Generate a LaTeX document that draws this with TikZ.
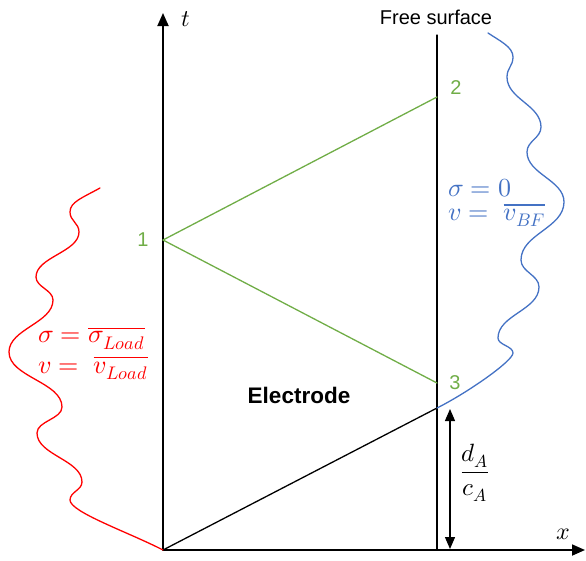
\documentclass[tikz,border=0pt]{standalone}
\usepackage{fontspec}
\usepackage{unicode-math}
\setsansfont{Liberation Sans}
\setmathfont{Latin Modern Math}
\usetikzlibrary{arrows.meta}
\definecolor{Rline}{RGB}{255,0,0}
\definecolor{Bline}{RGB}{68,114,196}
\definecolor{Gline}{RGB}{112,173,71}
\begin{document}
\begin{tikzpicture}[x=1pt,y=-1pt,line cap=round,line join=round,
  axis/.style={line width=1.8pt,-{Triangle[length=13pt,width=11pt]}},
  span/.style={line width=1.3pt,{Triangle[length=12pt,width=10pt]}-{Triangle[length=12pt,width=10pt]}},
  ray/.style={line width=1.3pt},
  wave/.style={line width=1.3pt},
  ptlabel/.style={text=Gline,font=\sffamily\fontsize{20}{22}\selectfont,inner sep=0pt},
  mathlabel/.style={anchor=west,font=\fontsize{26}{30}\selectfont,inner sep=0pt}]
\path[use as bounding box] (0,0) rectangle (586,560);
\coordinate (O) at (163,550);
\coordinate (tTip) at (163,13);
\coordinate (xTip) at (585,550);
\coordinate (Ftop) at (437,35);
\coordinate (Fbot) at (437,550);
\coordinate (P1) at (163,240);
\coordinate (P2) at (437,97);
\coordinate (P3) at (437,383);
\coordinate (A) at (437,408);
\coordinate (Atop) at (450,409);
\coordinate (Abot) at (450,549);
\draw[axis] (O) -- (tTip);
\draw[axis] (O) -- (xTip);
\draw[ray] (Ftop) -- (Fbot);
\draw[ray] (O) -- (A);
\draw[ray,Gline] (P1) -- (P2);
\draw[ray,Gline] (P1) -- (P3);
\draw[span] (Atop) -- (Abot);
\draw[wave,Rline] (100,188) .. controls +(-18,10) and +(0,-10) .. (70,212)
  .. controls +(0,9) and +(0,-9) .. (79,232)
  .. controls +(0,20) and +(0,-20) .. (36,277)
  .. controls +(0,10) and +(0,-10) .. (53,300)
  .. controls +(0,23) and +(0,-23) .. (9,352)
  .. controls +(0,25) and +(0,-25) .. (62,407)
  .. controls +(0,12) and +(0,-12) .. (37,433)
  .. controls +(0,22) and +(0,-22) .. (82,482)
  .. controls +(0,8) and +(0,-8) .. (70,500)
  .. controls +(0,12) and +(-35,-18) .. (O);
\draw[wave,Bline] (488,33) .. controls +(12,8) and +(0,-10) .. (513,57)
  .. controls +(0,9) and +(0,-9) .. (507,77)
  .. controls +(0,22) and +(0,-22) .. (541,127)
  .. controls +(0,11) and +(0,-11) .. (527,152)
  .. controls +(0,22) and +(0,-22) .. (564,202)
  .. controls +(0,26) and +(0,-26) .. (521,260)
  .. controls +(0,12) and +(0,-12) .. (539,287)
  .. controls +(0,23) and +(0,-23) .. (498,338)
  .. controls +(0,7) and +(0,-7) .. (513,353)
  .. controls +(0,8) and +(30,-15) .. (A);
\node[font=\fontsize{24}{28}\selectfont] (tLabel) at (186,19) {$t$};
\node[font=\fontsize{24}{28}\selectfont] (xLabel) at (563,534) {$x$};
\node[font=\sffamily\fontsize{20}{22}\selectfont] (freeLabel) at (436,17) {Free surface};
\node[font=\sffamily\bfseries\fontsize{22.5}{26}\selectfont] (electrode) at (299,395) {Electrode};
\node[ptlabel] (n1) at (143,240) {1};
\node[ptlabel] (n2) at (456,88) {2};
\node[ptlabel] (n3) at (455,383) {3};
\node[mathlabel,text=Rline] (sigLoad) at (38,338) {$\sigma = \overline{\sigma_{Load}}$};
\node[mathlabel,text=Rline] (vLoad) at (38,368) {$v = \ \overline{v_{Load}}$};
\node[mathlabel,text=Bline] (sigBF) at (448,188) {$\sigma = 0$};
\node[mathlabel,text=Bline] (vBF) at (448,215) {$v = \ \overline{v_{BF}}$};
\node[font=\fontsize{25}{29}\selectfont] (ratio) at (475,473) {$\displaystyle\frac{d_A}{c_A}$};
\end{tikzpicture}
\end{document}
